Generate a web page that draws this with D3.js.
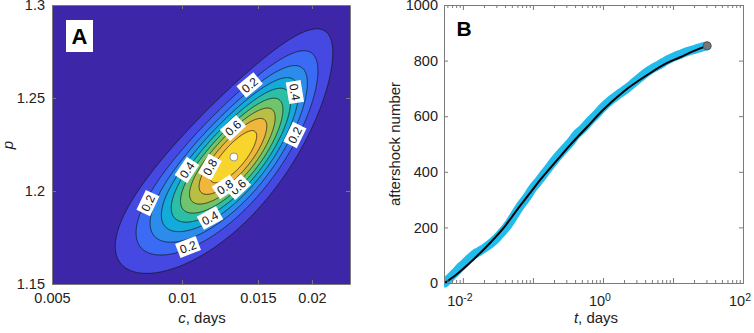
<!DOCTYPE html>
<html>
<head>
<meta charset="utf-8">
<script src="https://cdn.jsdelivr.net/npm/d3@7"></script>
<style>
  body { margin: 0; background: #fff; }
  svg { font-family: "Liberation Sans", Arial, Helvetica, sans-serif; }
</style>
</head>
<body>
<div id="chart"></div>
<script>
// ---- panel A: likelihood surface over (c, p) ----
const cTicks = [0.005, 0.01, 0.015, 0.02];
const pTicks = [1.15, 1.2, 1.25, 1.3];
const levels = [0.1, 0.2, 0.3, 0.4, 0.5, 0.6, 0.7, 0.8, 0.9];
const bandColors = ["#3e26a8", "#4549e2", "#3b6af4", "#2b8cec", "#13abd9",
                    "#2cbfa6", "#70c46c", "#b9bf45", "#f1b73d", "#f8d52c"];
// best fit and the shape of the surface around it
// (u = 0.1 decade of c, v = 0.01 of p)
const bestFit = { c: 0.01319, p: 1.2183 };
const majorCoef = [28.3, 14.06];
const minorCoef = [-32.66, 12.18];
const majorLen = 155, minorLen = 52, bend = 0.0005, taper = 0.15;
const contourLabels = [
  { c: 0.01435, p: 1.257, text: "0.2" },
  { c: 0.01826, p: 1.2532, text: "0.4" },
  { c: 0.01826, p: 1.2301, text: "0.2" },
  { c: 0.01313, p: 1.2339, text: "0.6" },
  { c: 0.01161, p: 1.2129, text: "0.8" },
  { c: 0.01027, p: 1.2113, text: "0.4" },
  { c: 0.01348, p: 1.2022, text: "0.6" },
  { c: 0.01258, p: 1.2022, text: "0.8" },
  { c: 0.00834, p: 1.1935, text: "0.2" },
  { c: 0.01161, p: 1.1855, text: "0.4" },
  { c: 0.01033, p: 1.1699, text: "0.2" }
];

// ---- panel B: cumulative aftershock number ----
const tObs = [0.0055, 0.0065, 0.0078, 0.009, 0.0105, 0.012, 0.014, 0.016, 0.018, 0.021,
              0.025, 0.03, 0.036, 0.045, 0.055, 0.068, 0.08, 0.1, 0.12, 0.15, 0.18,
              0.22, 0.28, 0.34, 0.42, 0.52, 0.65, 0.8, 1.0, 1.3, 1.7, 2.2, 2.8, 3.5,
              4.3, 5.2, 6.5, 8, 10, 12.5, 15, 19, 24, 30.7];
const nObs = [0, 18, 38, 55, 70, 85, 100, 110, 117, 128,
              142, 160, 182, 212, 246, 282, 305, 342, 366, 398, 424,
              452, 482, 505, 535, 556, 583, 606, 632, 658, 680, 700, 722, 742,
              760, 773, 786, 800, 812, 822, 830, 838, 846, 853];
const tFit = [0.0055, 0.008, 0.0139, 0.0244, 0.04, 0.0593, 0.09, 0.126, 0.221, 0.339,
              0.593, 1.0, 2.0, 4.27, 8, 12.6, 20, 30.7];
const nFit = [0, 30, 83, 144, 205, 263, 322, 370, 442, 496,
              561, 622, 690, 748, 790, 812, 835, 853];
const nTicks = [0, 200, 400, 600, 800, 1000];
const tLabelTicks = [1e-2, 1e0, 1e2];

const W = 754, H = 333;
const svg = d3.select("#chart").append("svg").attr("width", W).attr("height", H);

const axisColor = "#7a7a7a";
const textColor = "#222";
const tickFont = "14.5px";

function styleAxis(g) {
  g.selectAll("path.domain").attr("stroke", axisColor);
  g.selectAll(".tick line").attr("stroke", axisColor);
  g.selectAll(".tick text").attr("fill", textColor).attr("font-size", tickFont)
    .attr("font-family", "Liberation Sans, Arial, sans-serif");
}

// ================= Panel A =================
const xA = d3.scaleLog().domain([0.005, 0.0245]).range([52, 350]);
const yA = d3.scaleLinear().domain([1.15, 1.3]).range([284, 5]);

function surface(c, p) {
  const u = (Math.log10(c) - Math.log10(bestFit.c)) / 0.1;
  const v = (p - bestFit.p) / 0.01;
  const a = majorCoef[0] * u + majorCoef[1] * v;
  const b = minorCoef[0] * u + minorCoef[1] * v - bend * a * a;
  const an = a / majorLen;
  const bn = b / (minorLen * (1 - taper * an));
  return Math.pow(0.1, an * an + bn * bn);
}

const [ax0, ax1] = xA.range();
const [ay1, ay0] = yA.range();
const nx = Math.round(ax1 - ax0), ny = Math.round(ay1 - ay0);
const grid = new Array(nx * ny);
for (let j = 0; j < ny; j++) {
  for (let i = 0; i < nx; i++) {
    grid[j * nx + i] = surface(xA.invert(ax0 + i + 0.5), yA.invert(ay0 + j + 0.5));
  }
}

svg.append("defs").append("clipPath").attr("id", "clipA")
  .append("rect").attr("x", ax0).attr("y", ay0).attr("width", nx).attr("height", ny);

const plotA = svg.append("g").attr("clip-path", "url(#clipA)");
plotA.append("rect").attr("x", ax0).attr("y", ay0).attr("width", nx).attr("height", ny)
  .attr("fill", bandColors[0]);

const contours = d3.contours().size([nx, ny]).thresholds(levels)(grid);
plotA.append("g")
  .attr("transform", `translate(${ax0},${ay0})`)
  .selectAll("path")
  .data(contours)
  .join("path")
  .attr("d", d3.geoPath())
  .attr("fill", (d, i) => bandColors[i + 1])
  .attr("stroke", "#111")
  .attr("stroke-width", 0.7);

// best-fit point
plotA.append("circle")
  .attr("cx", xA(bestFit.c)).attr("cy", yA(bestFit.p)).attr("r", 4)
  .attr("fill", "#fff").attr("stroke", "#555").attr("stroke-width", 0.6);

// contour labels, rotated along the level line
const labG = plotA.append("g");
contourLabels.forEach(l => {
  const px = xA(l.c), py = yA(l.p);
  const f = (x, y) => surface(xA.invert(x), yA.invert(y));
  const gx = f(px + 1, py) - f(px - 1, py);
  const gy = f(px, py + 1) - f(px, py - 1);
  let ang = Math.atan2(gy, gx) * 180 / Math.PI + 90;
  while (ang > 90) ang -= 180;
  while (ang < -90) ang += 180;
  const g = labG.append("g").attr("transform", `translate(${px},${py}) rotate(${ang})`);
  g.append("rect").attr("x", -11).attr("y", -7.5).attr("width", 22).attr("height", 15)
    .attr("fill", "#fff");
  g.append("text").attr("text-anchor", "middle").attr("dy", "0.36em")
    .attr("font-size", "12px").attr("fill", "#111").text(l.text);
});

// axes A
const fmtA = d => String(d);
svg.append("g").attr("transform", `translate(0,${ay1})`)
  .call(d3.axisBottom(xA).tickValues(cTicks).tickFormat(fmtA).tickSizeInner(-4).tickSizeOuter(0).tickPadding(9))
  .call(styleAxis);
svg.append("g").attr("transform", `translate(0,${ay0})`)
  .call(d3.axisTop(xA).tickValues(cTicks).tickFormat("").tickSizeInner(-4).tickSizeOuter(0))
  .call(styleAxis);
svg.append("g").attr("transform", `translate(${ax0},0)`)
  .call(d3.axisLeft(yA).tickValues(pTicks).tickFormat(d3.format(".2~f")).tickSizeInner(-4).tickSizeOuter(0).tickPadding(7))
  .call(styleAxis);
svg.append("g").attr("transform", `translate(${ax1},0)`)
  .call(d3.axisRight(yA).tickValues(pTicks).tickFormat("").tickSizeInner(-4).tickSizeOuter(0))
  .call(styleAxis);

// panel letter A
svg.append("rect").attr("x", 66).attr("y", 20).attr("width", 27).attr("height", 32).attr("fill", "#fff");
svg.append("text").attr("x", 79.5).attr("y", 44).attr("text-anchor", "middle")
  .attr("font-size", "22px").attr("font-weight", "bold").attr("fill", "#000").text("A");

// axis titles A
const cLab = svg.append("text").attr("x", 202).attr("y", 323).attr("text-anchor", "middle")
  .attr("font-size", "15px").attr("fill", textColor);
cLab.append("tspan").attr("font-style", "italic").text("c");
cLab.append("tspan").text(", days");
svg.append("text").attr("transform", "translate(13,145) rotate(-90)").attr("text-anchor", "middle")
  .attr("font-size", "15px").attr("font-style", "italic").attr("fill", textColor).text("p");

// ================= Panel B =================
const xB = d3.scaleLog().domain([Math.pow(10, -2.27), 100]).range([444, 743]);
const yB = d3.scaleLinear().domain([0, 1000]).range([283, 5]);
const [bx0, bx1] = xB.range();
const [by1, by0] = yB.range();

svg.append("defs").append("clipPath").attr("id", "clipB")
  .append("rect").attr("x", bx0).attr("y", by0 - 6).attr("width", bx1 - bx0).attr("height", by1 - by0 + 12);

const plotB = svg.append("g").attr("clip-path", "url(#clipB)");
const obs = tObs.map((t, i) => [t, nObs[i]]);
const fit = tFit.map((t, i) => [t, nFit[i]]);

plotB.append("path")
  .datum(obs)
  .attr("d", d3.line(d => xB(d[0]), d => yB(d[1])).curve(d3.curveMonotoneX))
  .attr("fill", "none")
  .attr("stroke", "#22bcec")
  .attr("stroke-width", 9)
  .attr("stroke-linecap", "round")
  .attr("stroke-linejoin", "round");

plotB.append("path")
  .datum(fit)
  .attr("d", d3.line(d => xB(d[0]), d => yB(d[1])).curve(d3.curveMonotoneX))
  .attr("fill", "none")
  .attr("stroke", "#000")
  .attr("stroke-width", 2);

const last = obs[obs.length - 1];
plotB.append("circle")
  .attr("cx", xB(last[0])).attr("cy", yB(last[1])).attr("r", 4)
  .attr("fill", "#777").attr("stroke", "#555").attr("stroke-width", 1);

// log ticks
const allT = [];
for (let e = -3; e < 2; e++) for (let m = 1; m < 10; m++) {
  const v = m * Math.pow(10, e);
  if (v >= xB.domain()[0] && v <= 100) allT.push(v);
}
allT.push(100);
const minorT = allT.filter(v => Math.abs(Math.log10(v) - Math.round(Math.log10(v))) > 1e-9);
const majorT = allT.filter(v => Math.abs(Math.log10(v) - Math.round(Math.log10(v))) <= 1e-9);

const bottomB = svg.append("g").attr("transform", `translate(0,${by1})`);
bottomB.append("g").call(d3.axisBottom(xB).tickValues(minorT).tickFormat("").tickSizeInner(-3).tickSizeOuter(0)).call(styleAxis);
bottomB.append("g").call(d3.axisBottom(xB).tickValues(majorT).tickFormat("").tickSizeInner(-5).tickSizeOuter(0)).call(styleAxis);
const topB = svg.append("g").attr("transform", `translate(0,${by0})`);
topB.append("g").call(d3.axisTop(xB).tickValues(minorT).tickFormat("").tickSizeInner(-3).tickSizeOuter(0)).call(styleAxis);
topB.append("g").call(d3.axisTop(xB).tickValues(majorT).tickFormat("").tickSizeInner(-5).tickSizeOuter(0)).call(styleAxis);

// decade labels
const decLab = svg.append("g").selectAll("text")
  .data(tLabelTicks)
  .join("text")
  .attr("x", d => xB(d) - 3)
  .attr("y", 306)
  .attr("text-anchor", "middle")
  .attr("font-size", tickFont)
  .attr("fill", textColor);
decLab.append("tspan").text("10");
decLab.append("tspan").attr("dy", "-0.45em").attr("font-size", "10.5px")
  .text(d => String(Math.round(Math.log10(d))));

svg.append("g").attr("transform", `translate(${bx0},0)`)
  .call(d3.axisLeft(yB).tickValues(nTicks).tickFormat(d3.format("d")).tickSizeInner(-4).tickSizeOuter(0).tickPadding(6))
  .call(styleAxis);
svg.append("g").attr("transform", `translate(${bx1},0)`)
  .call(d3.axisRight(yB).tickValues(nTicks).tickFormat("").tickSizeInner(-4).tickSizeOuter(0))
  .call(styleAxis);

svg.append("text").attr("x", 464).attr("y", 36).attr("text-anchor", "middle")
  .attr("font-size", "21px").attr("font-weight", "bold").attr("fill", "#000").text("B");

const tLab = svg.append("text").attr("x", 596).attr("y", 323).attr("text-anchor", "middle")
  .attr("font-size", "15px").attr("fill", textColor);
tLab.append("tspan").attr("font-style", "italic").text("t");
tLab.append("tspan").text(", days");
svg.append("text").attr("transform", "translate(400,144) rotate(-90)").attr("text-anchor", "middle")
  .attr("font-size", "15px").attr("fill", textColor).text("aftershock number");
</script>
</body>
</html>
